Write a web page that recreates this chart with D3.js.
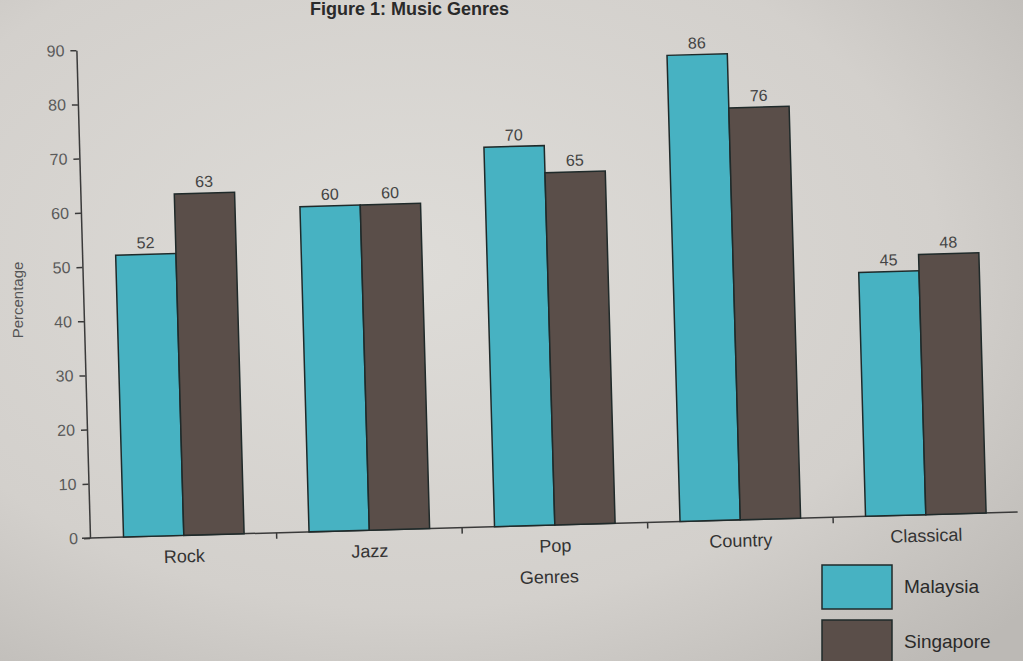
<!DOCTYPE html>
<html lang="en">
<head>
    <meta charset="UTF-8">
    <title>Music Genres</title>
    <script src="https://d3js.org/d3.v7.min.js"></script>
    <style>
        body { margin: 0; font-family: "Liberation Sans", Arial, sans-serif; }
        svg { display: block; }
    </style>
</head>
<body>
    <svg id="chart" width="1023" height="661"></svg>

    <script>
        // data
        const genres = ["Rock", "Jazz", "Pop", "Country", "Classical"];
        const countries = ["Malaysia", "Singapore"];
        const malaysia = [52, 60, 70, 86, 45];
        const singapore = [63, 60, 65, 76, 48];
        const yTicks = [0, 10, 20, 30, 40, 50, 60, 70, 80, 90];
        const colors = ["#47b2c2", "#5a4e49"];

        const svg = d3.select("#chart");
        const W = 1023, H = 661;

        // paper background
        const defs = svg.append("defs");
        const grad = defs.append("radialGradient")
            .attr("id", "paper")
            .attr("cx", "40%").attr("cy", "40%").attr("r", "80%");
        grad.append("stop").attr("offset", "0%").attr("stop-color", "#dedcd8");
        grad.append("stop").attr("offset", "65%").attr("stop-color", "#d3d0cc");
        grad.append("stop").attr("offset", "100%").attr("stop-color", "#bcb9b5");
        svg.append("rect").attr("width", W).attr("height", H).attr("fill", "url(#paper)");

        // title (cut off by the top of the photo)
        svg.append("text")
            .attr("x", 310).attr("y", 15)
            .attr("font-size", 18).attr("font-weight", "bold")
            .attr("fill", "#2a2a2a")
            .text("Figure 1: Music Genres");

        // chart frame, slightly tilted like the photo
        const x0 = 90, y0 = 538;
        const g = svg.append("g").attr("transform", `rotate(-1.6, ${x0}, ${y0})`);

        const y = d3.scaleLinear().domain([0, 90]).range([y0, 50]);
        const x = d3.scaleBand().domain(genres).range([92, 1018]).paddingInner(0.35).paddingOuter(0.17);
        const xs = d3.scaleBand().domain(countries).range([0, x.bandwidth()]);

        const rows = genres.map((gname, i) => ({ genre: gname, values: [malaysia[i], singapore[i]] }));

        // y axis
        const yAxis = g.append("g")
            .attr("transform", `translate(${x0},0)`)
            .call(d3.axisLeft(y).tickValues(yTicks).tickSize(6).tickPadding(6).tickSizeOuter(0));
        yAxis.select(".domain").attr("stroke", "#3a3a3a").attr("stroke-width", 1.5);
        yAxis.selectAll(".tick line").attr("stroke", "#3a3a3a").attr("stroke-width", 1.5);
        yAxis.selectAll(".tick text")
            .attr("font-size", 16).attr("fill", "#5a5a5a")
            .attr("font-family", "Liberation Sans, Arial, sans-serif");

        // x axis line with ticks between groups
        g.append("line")
            .attr("x1", x0 - 8).attr("x2", 1018)
            .attr("y1", y0).attr("y2", y0)
            .attr("stroke", "#3a3a3a").attr("stroke-width", 1.5);
        const step = x.step();
        g.selectAll(".sep")
            .data(genres.slice(1))
            .join("line")
            .attr("x1", d => x(d) - (step - x.bandwidth()) / 2)
            .attr("x2", d => x(d) - (step - x.bandwidth()) / 2)
            .attr("y1", y0).attr("y2", y0 + 6)
            .attr("stroke", "#3a3a3a").attr("stroke-width", 1.5);

        // bars
        const groups = g.selectAll(".grp")
            .data(rows)
            .join("g")
            .attr("transform", d => `translate(${x(d.genre)},0)`);

        groups.selectAll("rect")
            .data(d => d.values.map((v, j) => ({ country: countries[j], value: v, j })))
            .join("rect")
            .attr("x", d => xs(d.country))
            .attr("y", d => y(d.value))
            .attr("width", xs.bandwidth())
            .attr("height", d => y0 - y(d.value))
            .attr("fill", d => colors[d.j])
            .attr("stroke", "#1f2a2a")
            .attr("stroke-width", 1.5);

        groups.selectAll(".val")
            .data(d => d.values.map((v, j) => ({ country: countries[j], value: v })))
            .join("text")
            .attr("class", "val")
            .attr("x", d => xs(d.country) + xs.bandwidth() / 2)
            .attr("y", d => y(d.value) - 6)
            .attr("text-anchor", "middle")
            .attr("font-size", 16).attr("fill", "#444")
            .text(d => d.value);

        // category labels
        g.selectAll(".cat")
            .data(genres)
            .join("text")
            .attr("x", d => x(d) + x.bandwidth() / 2)
            .attr("y", y0 + 27)
            .attr("text-anchor", "middle")
            .attr("font-size", 18).attr("fill", "#333")
            .text(d => d);

        g.append("text")
            .attr("x", 548).attr("y", y0 + 58)
            .attr("text-anchor", "middle")
            .attr("font-size", 18).attr("fill", "#333")
            .text("Genres");

        // y axis title
        svg.append("text")
            .attr("transform", "translate(23,300) rotate(-90)")
            .attr("text-anchor", "middle")
            .attr("font-size", 15).attr("fill", "#555")
            .text("Percentage");

        // legend
        const legend = svg.append("g").attr("transform", "translate(822,565)");
        countries.forEach((c, i) => {
            legend.append("rect")
                .attr("x", 0).attr("y", i * 55)
                .attr("width", 70).attr("height", 44)
                .attr("fill", colors[i])
                .attr("stroke", "#1f2a2a").attr("stroke-width", 1.5);
            legend.append("text")
                .attr("x", 82).attr("y", i * 55 + 28)
                .attr("font-size", 19).attr("fill", "#2a2a2a")
                .text(c);
        });
    </script>
</body>
</html>
